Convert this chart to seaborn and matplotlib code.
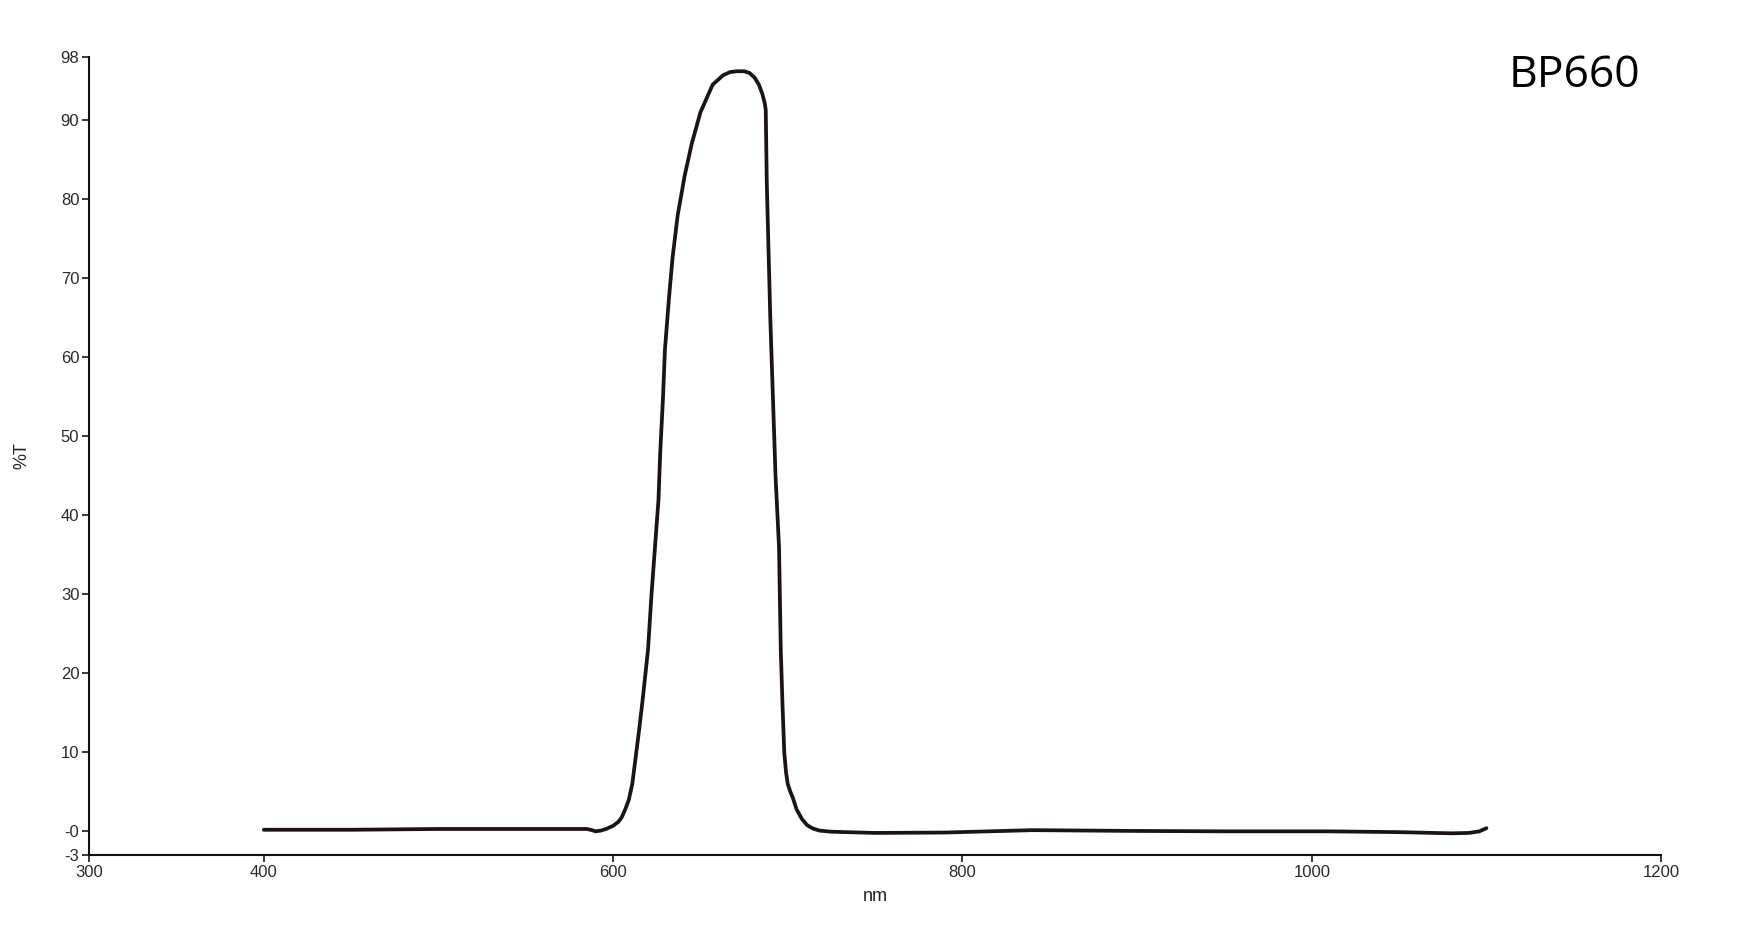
import matplotlib
matplotlib.use("Agg")
import matplotlib.pyplot as plt
import seaborn as sns
import pandas as pd

# spectrum (wavelength in nm, transmission in %T)
wavelength = [400, 450, 500, 550, 580, 585, 588, 590, 593, 596, 600, 603, 605,
              607, 609, 611, 613, 615, 617, 620, 622, 624, 626, 627,
              628.6, 629.7, 632, 634, 637, 641, 645, 650, 657, 663, 667, 671,
              675, 678, 681, 683.5, 685.5, 686.8, 687.4, 688, 689, 690, 691.5,
              693, 695, 696, 697, 698, 699, 700, 701.5, 703, 705, 708, 711,
              714, 718, 725, 750, 790, 840, 900, 950, 1010, 1050, 1080, 1090,
              1096, 1100]
transmission = [0.2, 0.2, 0.3, 0.3, 0.3, 0.3, 0.15, 0.0, 0.1, 0.3, 0.7, 1.2,
                1.8, 2.8, 4.0, 6.0, 9.5, 13.0, 16.8, 23.0, 30.0, 36.0,
                42.0, 48.0, 55.0, 61.0, 67.5, 72.5, 78.0, 83.0, 87.0, 91.0,
                94.5, 95.7, 96.1, 96.2, 96.2, 96.0, 95.4, 94.5, 93.3, 92.2,
                91.3, 82.0, 73.5, 65.0, 55.0, 45.0, 36.0, 23.0, 16.0, 10.0,
                7.5, 6.0, 5.0, 4.2, 2.8, 1.6, 0.8, 0.4, 0.1, -0.05, -0.2,
                -0.15, 0.15, 0.05, 0.0, 0.0, -0.1, -0.25, -0.2, 0.0, 0.4]

x_ticks = [300, 400, 600, 800, 1000, 1200]
y_ticks = [98, 90, 80, 70, 60, 50, 40, 30, 20, 10, 0, -3]
y_tick_labels = ["98", "90", "80", "70", "60", "50", "40", "30", "20", "10", "-0", "-3"]
filter_name = "BP660"

df = pd.DataFrame({"nm": wavelength, "T": transmission})

sns.set_style("ticks")
plt.rcParams["font.family"] = ["Liberation Sans", "DejaVu Sans"]

fig = plt.figure(figsize=(17.5, 9.49), dpi=100)
ax = fig.add_axes([0.0509, 0.0990, 0.8983, 0.8409])

sns.lineplot(data=df, x="nm", y="T", ax=ax, color="#1c1412", linewidth=2.7,
             sort=False, estimator=None)
for ln in ax.get_lines():
    ln.set_solid_joinstyle("round")
    ln.set_solid_capstyle("round")

ax.set_xlim(300, 1200)
ax.set_ylim(-3, 98)
ax.set_xticks(x_ticks)
ax.set_xticklabels([str(t) for t in x_ticks])
ax.set_yticks(y_ticks)
ax.set_yticklabels(y_tick_labels)

ax.tick_params(axis="both", direction="out", length=5, width=1.3,
               labelsize=12, colors="#2a2a2a", pad=2)
for side in ["left", "bottom"]:
    ax.spines[side].set_linewidth(1.5)
    ax.spines[side].set_color("#111111")
sns.despine(ax=ax)

ax.set_xlabel("nm", fontsize=13, color="#222222", labelpad=6)
ax.set_ylabel("%T", fontsize=13, color="#222222", labelpad=22)

fig.text(1640 / 1750, 1 - 87 / 949, filter_name, ha="right", va="baseline",
         fontsize=32, family=["Open Sans", "DejaVu Sans"], color="black")

fig.savefig("out.png", dpi=100, facecolor="white")
